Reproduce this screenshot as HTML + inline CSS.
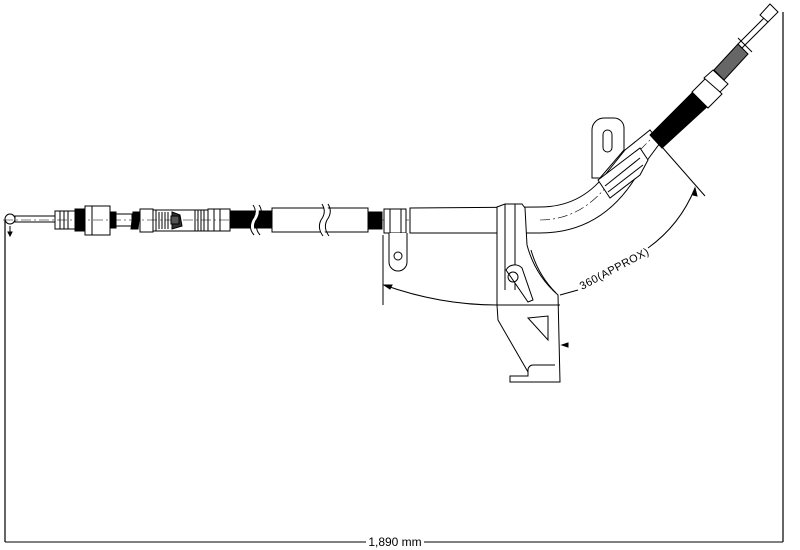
<!DOCTYPE html>
<html><head><meta charset="utf-8"><style>
html,body{margin:0;padding:0;background:#fff;}
svg{display:block;}
text{font-family:"Liberation Sans",sans-serif;}
</style></head><body>
<svg width="800" height="550" viewBox="0 0 800 550" xmlns="http://www.w3.org/2000/svg" fill="none" stroke="#000" stroke-width="1">
<!-- dimension lines -->
<line x1="5" y1="220" x2="5" y2="542" stroke-width="1.2"/>
<line x1="783" y1="12" x2="783" y2="542" stroke-width="1.2"/>
<line x1="5" y1="542" x2="366" y2="542"/>
<line x1="424" y1="542" x2="783" y2="542"/>
<text x="395" y="546" font-size="12" text-anchor="middle" fill="#000" stroke="none">1,890 mm</text>

<!-- centerline -->
<line x1="3" y1="220" x2="540" y2="220" stroke-dasharray="10,3,2,3" stroke-width="0.6"/>

<!-- left ball end -->
<circle cx="10" cy="219" r="5"/>
<line x1="10" y1="226" x2="10" y2="234"/>
<path d="M8 232 L10 236 L12 232Z" fill="#000"/>
<rect x="15" y="216" width="40" height="6"/>
<!-- fitting 1 -->
<rect x="55" y="211" width="20" height="18"/>
<line x1="60" y1="211" x2="60" y2="229"/><line x1="64" y1="211" x2="64" y2="229"/><line x1="68" y1="211" x2="68" y2="229"/>
<rect x="75" y="209" width="9" height="22" fill="#000"/>
<rect x="85" y="206" width="25" height="29"/>
<line x1="92" y1="206" x2="92" y2="235"/>
<rect x="110" y="212" width="6" height="16" fill="#000"/>
<rect x="116" y="214" width="16" height="12"/>
<path d="M133 212 L140 212 L138 229 L131 229Z" fill="#000"/>
<rect x="140" y="209" width="13" height="23"/>
<rect x="153" y="210" width="55" height="21"/>
<line x1="156" y1="210" x2="156" y2="231"/><line x1="159" y1="212" x2="159" y2="229"/><line x1="162" y1="212" x2="162" y2="229"/><line x1="165" y1="212" x2="165" y2="229"/><line x1="168" y1="212" x2="168" y2="229"/>
<path d="M172 212 L180 215 L182 226 L172 229Z" fill="#333"/>
<rect x="171" y="216" width="8" height="8" fill="#555"/>
<line x1="195" y1="210" x2="195" y2="231"/><line x1="198" y1="210" x2="198" y2="231"/><line x1="201" y1="210" x2="201" y2="231"/><line x1="204" y1="210" x2="204" y2="231"/>
<rect x="208" y="209" width="22" height="22"/>
<line x1="214" y1="209" x2="214" y2="231"/><line x1="220" y1="209" x2="220" y2="231"/>
<!-- black cable -->
<rect x="230" y="211" width="42" height="17" fill="#000"/>
<path d="M255 205 Q260 212 254 220 Q250 228 256 235" stroke="#fff" stroke-width="3"/>
<path d="M253 205 Q258 212 252 220 Q248 228 254 235"/><path d="M259 205 Q264 212 258 220 Q254 228 260 235"/>
<!-- tube -->
<rect x="272" y="208" width="96" height="24" fill="#fff"/>
<path d="M324 204 Q329 212 323 220 Q319 228 325 236" stroke="#fff" stroke-width="4"/>
<path d="M322 204 Q327 212 321 220 Q317 228 323 236"/><path d="M328 204 Q333 212 327 220 Q323 228 329 236"/>
<rect x="368" y="212" width="14" height="17" fill="#000"/>
<!-- clip -->
<rect x="384" y="209" width="22" height="24" fill="#fff"/>
<line x1="390" y1="209" x2="390" y2="233"/><line x1="401" y1="209" x2="401" y2="233"/>
<path d="M389 233 L389 262 A9 9 0 0 0 407 262 L407 233" fill="#fff"/>
<circle cx="398" cy="256" r="4"/>
<!-- tube main -->
<path d="M410 208 L540 207 Q580 207 605 175 L625 150 L650 130 L660 143 L640 170 Q605 233 540 233 L410 233Z" fill="#fff"/>
<path d="M540 220 Q585 220 615 175 L655 135" stroke-dasharray="10,3,2,3" stroke-width="0.6"/>
<!-- tab -->
<path d="M592 178 L592 130 A12 12 0 0 1 604 118 L614 118 A10 10 0 0 1 624 128 L624 150 L600 178Z" fill="#fff"/>
<rect x="603" y="130" width="9" height="22" rx="4.5"/>
<path d="M598 180 L640 148 L648 160 L640 175 L610 198 Z" fill="#fff"/>
<line x1="605" y1="186" x2="640" y2="158"/><line x1="608" y1="192" x2="643" y2="165"/>
<!-- upper black cable -->
<path d="M650 135 L695 90 L710 104 L662 148Z" fill="#000"/>
<path d="M692 92 L706 78 L722 94 L708 108Z" fill="#fff"/>
<path d="M704 78 L713 70 L728 84 L720 92Z" fill="#fff"/>
<path d="M714 70 L738 44 L748 54 L724 80Z" fill="#666"/>
<path d="M738 44 L764 18 L768 22 L742 48Z" fill="#fff"/>
<path d="M760 15 L770 4 L778 12 L768 22Z" fill="#fff"/>
<line x1="738" y1="38" x2="752" y2="52"/>
<!-- bracket -->
<path d="M497 207 L505 204 L522 204 L525 208 L527 245 Q535 275 558 295 L560 382 L510 382 L510 376 L528 376 L528 372 L498 320 L497 305Z" fill="#fff"/>
<line x1="505" y1="204" x2="505" y2="290"/><line x1="515" y1="204" x2="515" y2="290"/>
<path d="M531 250 Q538 275 556 293"/>
<line x1="497" y1="305" x2="560" y2="305"/>
<path d="M506 270 A10 10 0 0 1 522 268 L533 300 L528 302 Z" fill="#fff"/>
<circle cx="513" cy="277" r="5"/>
<path d="M528 318 L548 316 L548 340 Z"/>
<path d="M528 376 L528 370 A5 5 0 0 1 533 365 L555 365"/>
<path d="M562 345 L568 343 L568 347Z" fill="#000"/>
<!-- angle dimension -->
<line x1="383" y1="235" x2="383" y2="305"/>
<path d="M384 285 Q440 305 497 305"/>
<path d="M384 285 L392 285 L390 289Z" fill="#000"/>
<line x1="560" y1="295" x2="578" y2="290"/>
<text x="582" y="290" font-size="11" fill="#000" stroke="none" transform="rotate(-28 582 290)" letter-spacing="0.5">360(APPROX)</text>
<path d="M648 248 Q680 225 695 188"/>
<path d="M695 188 L697 196 L693 195Z" fill="#000"/>
<line x1="662" y1="147" x2="705" y2="196"/>
</svg>
</body></html>
